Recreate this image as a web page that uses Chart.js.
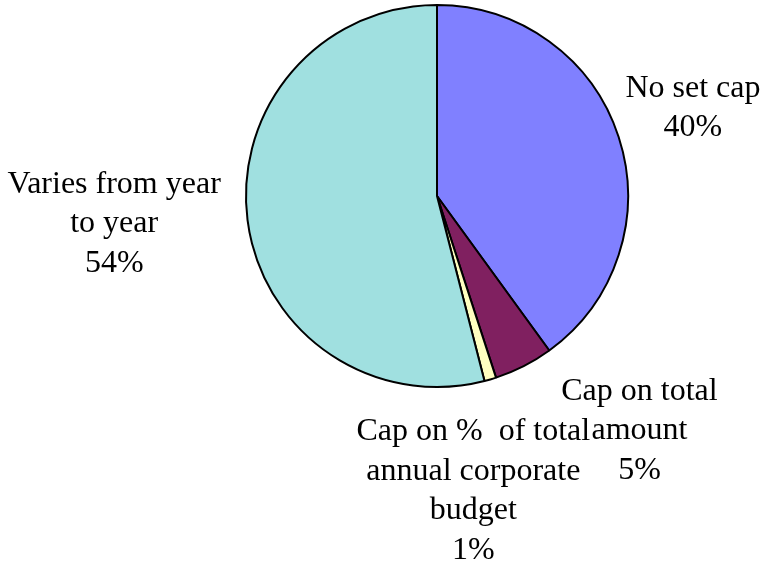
<!DOCTYPE html>
<html>
<head>
<meta charset="utf-8">
<script src="https://cdn.jsdelivr.net/npm/chart.js@4.4.1/dist/chart.umd.min.js"></script>
<style>
  html, body { margin: 0; padding: 0; background: #fff; }
  #wrap { width: 779px; height: 563px; position: relative; }
</style>
</head>
<body>
<div id="wrap"><canvas id="myChart"></canvas></div>
<script>
const categories = ["No set cap", "Cap on total amount", "Cap on % of total annual corporate budget", "Varies from year to year"];
const shares = [40, 5, 1, 54];
const sliceColors = ["#8080FF", "#802060", "#FFFFC0", "#A0E0E0"];
// how each label is broken into lines, and where it sits (in pie radii from centre)
const labelLines = [
  ["No set cap"],
  ["Cap on total", "amount"],
  ["Cap on %  of total", "annual corporate", "budget"],
  ["Varies from year", "to year"]
];
const labelSpots = [[1.34, -0.46], [1.06, 1.23], [0.19, 1.545], [-1.69, 0.145]];

const labelPlugin = {
  id: 'sliceLabels',
  afterDraw(chart) {
    const ctx = chart.ctx;
    const arc = chart.getDatasetMeta(0).data[0];
    const cx = arc.x, cy = arc.y, r = arc.outerRadius;
    const lineH = 39.5;
    ctx.save();
    ctx.font = '32px "Liberation Serif", "Times New Roman", serif';
    ctx.fillStyle = '#000';
    ctx.textAlign = 'center';
    ctx.textBaseline = 'middle';
    shares.forEach((v, i) => {
      const lines = labelLines[i].concat([v + '%']);
      const x = cx + labelSpots[i][0] * r;
      const y0 = cy + labelSpots[i][1] * r - (lines.length - 1) * lineH / 2;
      lines.forEach((t, j) => ctx.fillText(t, x, y0 + j * lineH));
    });
    ctx.restore();
  }
};

var ctx = document.getElementById('myChart').getContext('2d');
var myChart = new Chart(ctx, {
  type: 'pie',
  data: {
    labels: categories,
    datasets: [{
      data: shares,
      backgroundColor: sliceColors,
      borderColor: '#000',
      borderWidth: 2
    }]
  },
  options: {
    responsive: true,
    maintainAspectRatio: false,
    animation: false,
    layout: { padding: { left: 245, top: 4, right: 150, bottom: 175 } },
    plugins: {
      legend: { display: false },
      tooltip: { enabled: false }
    }
  },
  plugins: [labelPlugin]
});
</script>
</body>
</html>
